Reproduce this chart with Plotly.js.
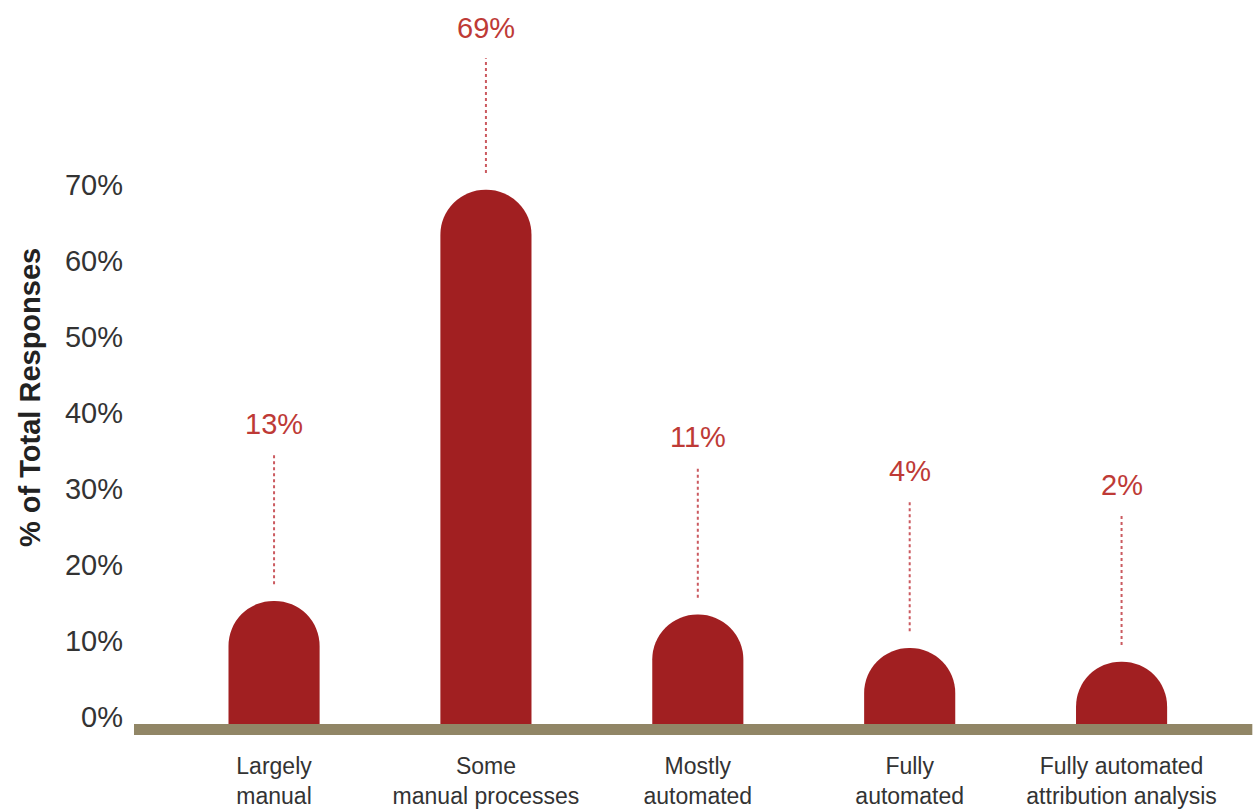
<!DOCTYPE html>
<html>
<head>
<meta charset="utf-8">
<script src="https://cdn.plot.ly/plotly-3.0.1.min.js"></script>
<style>html,body{margin:0;padding:0;background:#fff;}#chart{width:1254px;height:811px;}</style>
</head>
<body>
<div id="chart"></div>
<script>
// Categories (x tick labels)
const categories = [
  "Largely<br>manual",
  "Some<br>manual processes",
  "Mostly<br>automated",
  "Fully<br>automated",
  "Fully automated<br>attribution analysis"
];
// Printed percentage labels
const labelPct = [13, 69, 11, 4, 2];
// Drawn bar heights (% of total responses)
const barHeight = [16.2, 70.3, 14.4, 10.0, 8.2];
// Y tick values
const yTicks = [0, 10, 20, 30, 40, 50, 60, 70];
const yTitle = "% of Total Responses";

const BAR_COLOR = "#A11F21";
const LABEL_COLOR = "#BE3A36";
const LEADER_COLOR = "#CB5A60";
const AXIS_BAND = "#918666";
const TEXT = "#333333";
const FONT = "Liberation Sans, Arial, sans-serif";

const Y_MIN = -1.447, Y_MAX = 95.26;
const GAP = 2.2, LEAD = 17.1, LEAD_TOP = 87.6, LABEL_PAD = 4.0;

const lx = [], ly = [];
const annotations = [];
categories.forEach((c, i) => {
  const lo = barHeight[i] + GAP;
  const hi = Math.min(lo + LEAD, LEAD_TOP);
  lx.push(c, c, null);
  ly.push(lo, hi, null);
  annotations.push({
    x: c, y: hi + LABEL_PAD, xref: "x", yref: "y",
    text: labelPct[i] + "%", showarrow: false,
    font: {family: FONT, size: 29, color: LABEL_COLOR},
    xanchor: "center", yanchor: "middle"
  });
});
annotations.push({
  xref: "paper", yref: "paper", x: 0, y: 0.4585,
  xshift: -104, textangle: -90,
  text: yTitle, showarrow: false,
  xanchor: "center", yanchor: "middle",
  font: {family: FONT, size: 29, color: "#222222", weight: "bold"}
});

const bars = {
  type: "bar",
  x: categories,
  y: barHeight,
  width: 0.43,
  marker: {color: BAR_COLOR, cornerradius: "50%", line: {width: 0}},
  hoverinfo: "skip"
};
const leaders = {
  type: "scatter",
  mode: "lines",
  x: lx, y: ly,
  line: {color: LEADER_COLOR, width: 2, dash: "dot"},
  hoverinfo: "skip",
  connectgaps: false
};

const layout = {
  width: 1254, height: 811,
  margin: {l: 134, r: 0, t: 0, b: 76},
  paper_bgcolor: "#ffffff",
  plot_bgcolor: "#ffffff",
  showlegend: false,
  font: {family: FONT, color: TEXT},
  xaxis: {
    type: "category",
    range: [-0.661, 4.625],
    showgrid: false, zeroline: false, showline: false,
    ticks: "",
    tickfont: {family: FONT, size: 23, color: TEXT},
    ticklabelstandoff: 15,
    fixedrange: true
  },
  yaxis: {
    range: [Y_MIN, Y_MAX],
    tickvals: yTicks,
    ticktext: yTicks.map(v => v + "%"),
    showgrid: false, zeroline: false, showline: false,
    ticks: "",
    tickfont: {family: FONT, size: 29, color: TEXT},
    ticklabelshift: -7,
    ticklabelstandoff: 10,
    automargin: false,
    fixedrange: true
  },
  shapes: [{
    type: "rect", xref: "paper", yref: "y",
    x0: 0, x1: 0.9985, y0: Y_MIN, y1: 0,
    fillcolor: AXIS_BAND, line: {width: 0}, layer: "above"
  }],
  annotations: annotations
};

Plotly.newPlot("chart", [bars, leaders], layout, {displayModeBar: false, staticPlot: true});
</script>
</body>
</html>
